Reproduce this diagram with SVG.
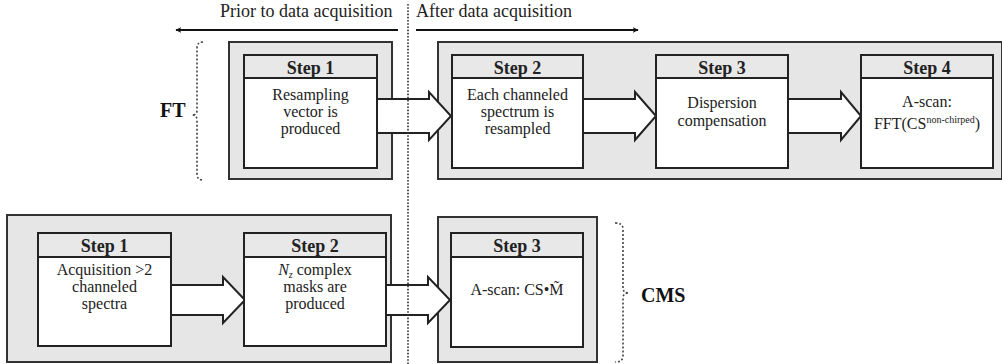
<svg xmlns="http://www.w3.org/2000/svg" width="1002" height="364" viewBox="0 0 1002 364">
<defs>
<style>
.outer{fill:#e6e6e6;stroke:#333;stroke-width:2}
.body{fill:#fff;stroke:#222;stroke-width:2}
.head{fill:#e8e8e8;stroke:#222;stroke-width:2}
.blk{fill:#fff;stroke:#222;stroke-width:2;stroke-linejoin:miter}
text{font-family:'Liberation Serif','Times New Roman',Tinos,'DejaVu Serif',serif}
.t{fill:#222;text-anchor:middle}
.h{font-size:18px;font-weight:bold}
.b{font-size:16px}
.lab{font-size:18px;fill:#222}
.big{font-size:20px;font-weight:bold;fill:#111}
.dot{fill:none;stroke:#333;stroke-width:1.6;stroke-dasharray:1.6 1.6}
.brace{fill:none;stroke:#444;stroke-width:1.6;stroke-dasharray:2 2}
.tl{stroke:#111;stroke-width:2;fill:none}
</style>
<marker id="ah" viewBox="0 0 10 10" refX="9" refY="5" markerWidth="6" markerHeight="6" orient="auto-start-reverse" markerUnits="userSpaceOnUse">
<path d="M0,0 L10,5 L0,10 L3,5 Z" fill="#111"/>
</marker>
</defs>

<g id="timeline">
<text class="lab" x="220" y="17">Prior to data acquisition</text>
<text class="lab" x="416" y="17">After data acquisition</text>
<line class="tl" x1="398" y1="30" x2="176" y2="30" marker-end="url(#ah)"/>
<line class="tl" x1="416" y1="30" x2="638" y2="30" marker-end="url(#ah)"/>
</g>

<g id="groups">
<rect class="outer" x="229" y="42" width="163" height="137"/>
<rect class="outer" x="438" y="42" width="564" height="137"/>
<rect class="outer" x="7" y="215" width="384" height="147"/>
<rect class="outer" x="438" y="217" width="159" height="145"/>
</g>

<g id="connectors">
<path class="blk" d="M377,99 L429,99 L429,92 L451,116 L429,140 L429,133 L377,133 Z"/>
<path class="blk" d="M583,99 L635,99 L635,92 L656,116 L635,140 L635,133 L583,133 Z"/>
<path class="blk" d="M788,99 L841,99 L841,92 L861,116 L841,140 L841,133 L788,133 Z"/>
<path class="blk" d="M171,285 L223,285 L223,277 L245,300 L223,323 L223,315 L171,315 Z"/>
<path class="blk" d="M386,285 L428,285 L428,277 L450,300 L428,323 L428,315 L386,315 Z"/>
</g>

<g id="ft-step1">
<rect class="body" x="244" y="55" width="133" height="113"/>
<rect class="head" x="244" y="55" width="133" height="23"/>
<text class="t h" x="310.5" y="74">Step 1</text>
<text class="t b" x="310.5" y="100">Resampling</text>
<text class="t b" x="310.5" y="117">vector is</text>
<text class="t b" x="310.5" y="134">produced</text>
</g>

<g id="ft-step2">
<rect class="body" x="452" y="55" width="131" height="113"/>
<rect class="head" x="452" y="55" width="131" height="23"/>
<text class="t h" x="517.5" y="74">Step 2</text>
<text class="t b" x="517.5" y="100">Each channeled</text>
<text class="t b" x="517.5" y="117">spectrum is</text>
<text class="t b" x="517.5" y="134">resampled</text>
</g>

<g id="ft-step3">
<rect class="body" x="656" y="55" width="132" height="113"/>
<rect class="head" x="656" y="55" width="132" height="23"/>
<text class="t h" x="722" y="74">Step 3</text>
<text class="t b" x="722" y="108">Dispersion</text>
<text class="t b" x="722" y="126">compensation</text>
</g>

<g id="ft-step4">
<rect class="body" x="861" y="55" width="132" height="113"/>
<rect class="head" x="861" y="55" width="132" height="23"/>
<text class="t h" x="927" y="74">Step 4</text>
<text class="t b" x="927" y="107">A-scan:</text>
<text class="t b" x="927" y="129">FFT(CS<tspan font-size="10" dy="-6">non-chirped</tspan><tspan dy="6">)</tspan></text>
</g>

<g id="cms-step1">
<rect class="body" x="38" y="233" width="133" height="113"/>
<rect class="head" x="38" y="233" width="133" height="24"/>
<text class="t h" x="104.5" y="252">Step 1</text>
<text class="t b" x="104.5" y="275">Acquisition &gt;2</text>
<text class="t b" x="104.5" y="292">channeled</text>
<text class="t b" x="104.5" y="309">spectra</text>
</g>

<g id="cms-step2">
<rect class="body" x="244" y="233" width="142" height="113"/>
<rect class="head" x="244" y="233" width="142" height="24"/>
<text class="t h" x="315" y="252">Step 2</text>
<text class="t b" x="315" y="275"><tspan font-style="italic">N</tspan><tspan font-style="italic" font-size="10" dy="3">z</tspan><tspan dy="-3"> complex</tspan></text>
<text class="t b" x="315" y="292">masks are</text>
<text class="t b" x="315" y="309">produced</text>
</g>

<g id="cms-step3">
<rect class="body" x="451" y="233" width="132" height="114"/>
<rect class="head" x="451" y="233" width="132" height="24"/>
<text class="t h" x="517" y="252">Step 3</text>
<text class="t b" x="517" y="295">A-scan: CS•M&#x303;</text>
</g>

<g id="labels">
<text class="big" x="160" y="117">FT</text>
<path class="brace" d="M203,42 Q197,42 197,48 L197,110 Q197,115 192,115 Q197,115 197,120 L197,174 Q197,180 203,180"/>
<text class="big" x="641" y="302">CMS</text>
<path class="brace" d="M615,223 Q623,223 623,229 L623,288 Q623,293 629,293 Q623,293 623,298 L623,356 Q623,362 615,362"/>
</g>

<line class="dot" x1="408" y1="4" x2="408" y2="364"/>
</svg>
